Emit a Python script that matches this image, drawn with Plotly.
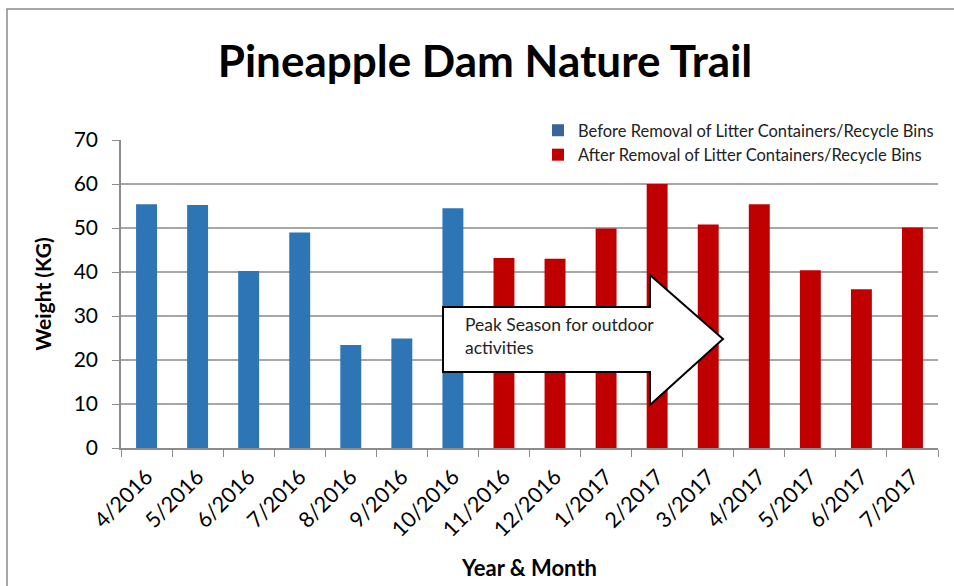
import plotly.graph_objects as go

months = ["4/2016", "5/2016", "6/2016", "7/2016", "8/2016", "9/2016", "10/2016",
          "11/2016", "12/2016", "1/2017", "2/2017", "3/2017", "4/2017", "5/2017",
          "6/2017", "7/2017"]
before_vals = [55.4, 55.2, 40.2, 49.0, 23.4, 24.9, 54.5,
               None, None, None, None, None, None, None, None, None]
after_vals = [None, None, None, None, None, None, None,
              43.2, 43.0, 49.9, 60.0, 50.8, 55.4, 40.4, 36.1, 50.1]
series_names = ["Before Removal of Litter Containers/Recycle Bins",
                "After Removal of Litter Containers/Recycle Bins"]

FONT = "Lato"
L, R, T, B = 121, 16, 140, 138
W, H = 954, 586
pw = W - L - R
ph = H - T - B

def px(x):
    return (x - L) / pw

def py(y):
    return (H - B - y) / ph

fig = go.Figure()
fig.add_trace(go.Bar(x=months, y=before_vals, name=series_names[0], showlegend=False,
                     marker=dict(color="#2E75B6", line=dict(width=0)), width=0.41))
fig.add_trace(go.Bar(x=months, y=after_vals, name=series_names[1], showlegend=False,
                     marker=dict(color="#C00000", line=dict(width=0)), width=0.41))
# legend-only entries (legend swatches use slightly different tones in the reference)
fig.add_trace(go.Bar(x=[None], y=[None], name=series_names[0],
                     marker=dict(color="#3A6499", line=dict(width=0))))
fig.add_trace(go.Bar(x=[None], y=[None], name=series_names[1],
                     marker=dict(color="#C00000", line=dict(width=0))))

# outer chart border
fig.add_shape(type="rect", xref="paper", yref="paper",
              x0=px(7), x1=px(990), y0=py(620), y1=py(9),
              line=dict(color="#8C8C8C", width=1.5), layer="below")

# arrow callout
ax0, ax1, atip = 443, 650, 723
by0, by1 = 307, 372
hy0, hy1, ty = 275, 405, 339
path = (f"M {px(ax0)} {py(by0)} L {px(ax1)} {py(by0)} L {px(ax1)} {py(hy0)} "
        f"L {px(atip)} {py(ty)} L {px(ax1)} {py(hy1)} L {px(ax1)} {py(by1)} "
        f"L {px(ax0)} {py(by1)} Z")
fig.add_shape(type="path", xref="paper", yref="paper", path=path,
              fillcolor="white", line=dict(color="black", width=2))
fig.add_annotation(xref="paper", yref="paper", x=px(463), y=py(336),
                   xanchor="left", yanchor="middle", align="left", showarrow=False,
                   text="Peak Season for outdoor<br>activities",
                   font=dict(family=FONT, size=17.5, color="#222222"))

fig.update_layout(
    width=W, height=H,
    margin=dict(l=L, r=R, t=T, b=B, autoexpand=False),
    paper_bgcolor="white", plot_bgcolor="white",
    barmode="overlay",
    title=dict(text="<b>Pineapple Dam Nature Trail</b>", x=px(485), xref="paper", xanchor="center",
               y=1 - 62 / H, yanchor="middle",
               font=dict(family=FONT, size=44, color="black")),
    legend=dict(x=px(538), y=py(113), xanchor="left", yanchor="top",
                bgcolor="white", font=dict(family=FONT, size=16.5, color="#222222"),
                itemwidth=30, tracegroupgap=0),
    font=dict(family=FONT),
)
fig.update_xaxes(
    automargin=False,
    showline=True, linecolor="#8C8C8C", linewidth=1.5,
    ticks="outside", tickson="boundaries", ticklen=7, tickcolor="#8C8C8C",
    tickangle=-45, tickfont=dict(family=FONT, size=21.5, color="black"),
    ticklabelstandoff=6,
    title=dict(text="<b>Year & Month</b>", font=dict(family=FONT, size=22, color="black"), standoff=20),
    showgrid=False,
)
fig.update_yaxes(
    automargin=False,
    range=[0, 70], dtick=10,
    showline=True, linecolor="#8C8C8C", linewidth=1.5,
    ticks="outside", ticklen=7, tickcolor="#8C8C8C",
    tickfont=dict(family=FONT, size=21, color="black"),
    ticklabelstandoff=10,
    showgrid=True, gridcolor="#A6A6A6", gridwidth=1.5,
    title=dict(text="<b>Weight (KG)</b>", font=dict(family=FONT, size=21, color="black"), standoff=16),
    zeroline=False,
)

fig.write_html("out.html", config={"displayModeBar": False},
               post_script="document.body.style.margin='0px';")
